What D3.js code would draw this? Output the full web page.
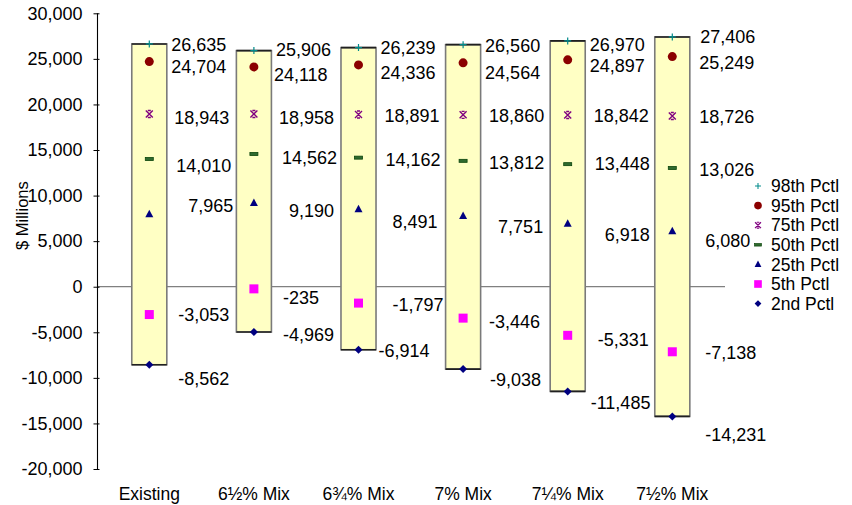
<!DOCTYPE html>
<html>
<head>
<meta charset="utf-8">
<script src="https://cdn.jsdelivr.net/npm/d3@7"></script>
<style>
  html, body { margin: 0; padding: 0; background: #fff; }
  svg { display: block; font-family: "Liberation Sans", Arial, sans-serif; }
</style>
</head>
<body>
<svg id="chart" width="852" height="505"></svg>
<script>
// Scenario categories
const categories = ["Existing", "6\u00bd% Mix", "6\u00be% Mix", "7% Mix", "7\u00bc% Mix", "7\u00bd% Mix"];

// Percentile values by scenario ($ millions)
const p98 = [26635, 25906, 26239, 26560, 26970, 27406];
const p95 = [24704, 24118, 24336, 24564, 24897, 25249];
const p75 = [18943, 18958, 18891, 18860, 18842, 18726];
const p50 = [14010, 14562, 14162, 13812, 13448, 13026];
const p25 = [7965, 9190, 8491, 7751, 6918, 6080];
const p5  = [-3053, -235, -1797, -3446, -5331, -7138];
const p2  = [-8562, -4969, -6914, -9038, -11485, -14231];

const seriesNames = ["98th Pctl", "95th Pctl", "75th Pctl", "50th Pctl", "25th Pctl", "5th Pctl", "2nd Pctl"];
const yTicks = [-20000, -15000, -10000, -5000, 0, 5000, 10000, 15000, 20000, 25000, 30000];

// Hand-placed data label offsets (px): [dx from box centre, dy from value]
const labelNudge = [
  [[22, 1], [22, 5.5], [25, 4], [27, 7], [39, -8], [29, 0], [29, 14]],
  [[22, -0.5], [20, 8], [25, 4], [28, 4], [35, 8], [29, 9], [29, 3]],
  [[22, 0], [22, 8], [26, 1.5], [27, 2.5], [34, 12], [34, 2], [20, 1]],
  [[22, 1], [22, 10], [26, 1], [26, 2], [35, 11], [26, 4], [27, 11]],
  [[22, 4], [22, 6], [26, 1], [27, 0], [37, 11], [30, 4], [23, 11]],
  [[28, 0], [27, 6], [27, 1], [27, 2], [33, 9], [33, 1], [33, 18]]
];

const series = [p98, p95, p75, p50, p25, p5, p2];

const svg = d3.select("#chart");
const fs = 17.5;

// Plain hyphen for negatives
const locale = d3.formatLocale({ decimal: ".", thousands: ",", grouping: [3], currency: ["$", ""], minus: "-" });
const fmt = locale.format(",");

const x = d3.scaleBand().domain(categories).range([97, 724.6]).paddingInner(0).paddingOuter(0);
const y = d3.scaleLinear().domain([-20000, 30000]).range([469, 13.3]);
const boxW = x.bandwidth() * 0.335;
const cx = c => x(c) + x.bandwidth() / 2;

// Zero line
svg.append("line")
  .attr("x1", 97).attr("x2", 725)
  .attr("y1", y(0)).attr("y2", y(0))
  .attr("stroke", "#808080").attr("stroke-width", 1.2);

// Y axis
const yAxis = d3.axisLeft(y).tickValues(yTicks).tickFormat(fmt).tickSize(4).tickPadding(11);
const gy = svg.append("g").attr("transform", "translate(97.5,0)").call(yAxis);
gy.select(".domain").attr("stroke", "#000").attr("stroke-width", 1.1).attr("d", `M0,${y(30000)}V${y(-20000)}`);
gy.selectAll(".tick line").attr("stroke", "#000").attr("x1", 2).attr("x2", -4);
gy.selectAll(".tick text").attr("font-size", 18).attr("fill", "#000").style("font-family", "Liberation Sans, Arial, sans-serif");

// Y axis title
svg.append("text")
  .attr("transform", `translate(28,${y(7800)}) rotate(-90)`)
  .attr("text-anchor", "middle")
  .attr("font-size", 16.5)
  .text("$ Millions");

// Category labels
svg.selectAll(".xlab").data(categories).join("text")
  .attr("class", "xlab")
  .attr("x", d => cx(d))
  .attr("y", 500)
  .attr("text-anchor", "middle")
  .attr("font-size", 17.5)
  .text(d => d);

// Range boxes from 2nd to 98th percentile
const boxes = svg.append("g");
categories.forEach((c, i) => {
  const x0 = cx(c) - boxW / 2, top = y(p98[i]), bot = y(p2[i]);
  boxes.append("rect")
    .attr("x", x0).attr("y", top).attr("width", boxW).attr("height", bot - top)
    .attr("fill", "#ffffc4").attr("stroke", "#7a7a7a").attr("stroke-width", 1.6);
  boxes.append("line").attr("x1", x0).attr("x2", x0 + boxW).attr("y1", top).attr("y2", top)
    .attr("stroke", "#202020").attr("stroke-width", 1.6);
  boxes.append("line").attr("x1", x0).attr("x2", x0 + boxW).attr("y1", bot).attr("y2", bot)
    .attr("stroke", "#202020").attr("stroke-width", 1.6);
});

// Marker drawers
const markers = [
  g => g.append("path").attr("d", "M-3.5,0H3.5M0,-3.5V3.5").attr("stroke", "#008b8b").attr("stroke-width", 1.2).attr("fill", "none"),
  g => g.append("circle").attr("r", 4.5).attr("fill", "#8b0000"),
  g => g.append("path").attr("d", "M-3.5,-3.5L3.5,3.5M-3.5,3.5L3.5,-3.5M-1.5,-3.5H1.5M-1.5,3.5H1.5").attr("stroke", "#800080").attr("stroke-width", 1.4).attr("fill", "none"),
  g => g.append("rect").attr("x", -4).attr("y", -1.5).attr("width", 8).attr("height", 3).attr("fill", "#2f6a2f").attr("stroke", "#0b450b").attr("stroke-width", 0.8),
  g => g.append("path").attr("d", "M0,-4.5L4,3L-4,3Z").attr("fill", "#000080"),
  g => g.append("rect").attr("x", -4.5).attr("y", -4.5).attr("width", 9).attr("height", 9).attr("fill", "#ff00ff"),
  g => g.append("path").attr("d", "M0,-4L4,0L0,4L-4,0Z").attr("fill", "#000080")
];

const marks = svg.append("g");
const labels = svg.append("g");
series.forEach((vals, s) => {
  vals.forEach((v, i) => {
    const c = categories[i];
    const g = marks.append("g").attr("transform", `translate(${cx(c)},${y(v)})`);
    markers[s](g);
    const [dx, dy] = labelNudge[i][s];
    labels.append("text")
      .attr("x", cx(c) + dx)
      .attr("y", y(v) + dy)
      .attr("dy", "0.35em")
      .attr("font-size", 18)
      .text(fmt(v));
  });
});

// Legend
const legend = svg.append("g");
seriesNames.forEach((name, s) => {
  const ly = 186 + s * 19.6;
  const g = legend.append("g").attr("transform", `translate(758,${ly})`);
  const mg = g.append("g").attr("transform", "scale(0.85)");
  markers[s](mg);
  g.append("text").attr("x", 13).attr("dy", "0.35em").attr("font-size", fs).text(name);
});
</script>
</body>
</html>
